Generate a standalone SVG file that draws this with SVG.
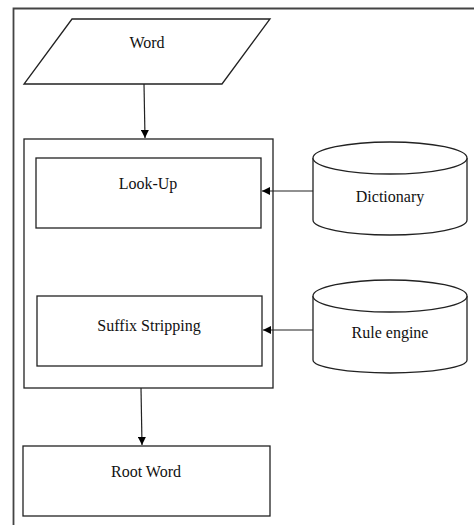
<svg xmlns="http://www.w3.org/2000/svg" width="474" height="525" viewBox="0 0 474 525">
<style>
.s{fill:#fff;stroke:#222;stroke-width:1.3}
.t{font-family:'Liberation Serif',Tinos,'Times New Roman',Times,serif;font-size:16px;fill:#111;text-anchor:middle}
.c{stroke:#222;stroke-width:1.2;fill:none}
</style>
<defs>
<marker id="ah" viewBox="0 0 10 10" refX="10" refY="5" markerWidth="9" markerHeight="8" markerUnits="userSpaceOnUse" orient="auto">
<path d="M0,0 L10,5 L0,10 Z" fill="#000"/>
</marker>
</defs>
<rect width="474" height="525" fill="#fff"/>
<g id="frame"><path d="M13.5,525 V8.5 H474" fill="none" stroke="#444" stroke-width="1.8"/></g>
<g id="word"><path class="s" d="M72,19 H270 L222,84 H24 Z"/><text class="t" x="147" y="48">Word</text></g>
<g id="container"><rect class="s" x="24" y="139" width="249" height="249"/></g>
<g id="lookup"><rect class="s" x="36" y="158" width="225" height="70"/><text class="t" x="148" y="189">Look-Up</text></g>
<g id="suffix"><rect class="s" x="37" y="296" width="225" height="70"/><text class="t" x="149" y="331">Suffix Stripping</text></g>
<g id="dictionary"><path class="s" d="M313,158 V220 A77,15 0 0 0 467,220 V158"/><ellipse class="s" cx="390" cy="158" rx="77" ry="16"/><text class="t" x="390" y="202">Dictionary</text></g>
<g id="rule"><path class="s" d="M313,296 V360 A77,13 0 0 0 467,360 V296"/><ellipse class="s" cx="390" cy="296" rx="77" ry="16"/><text class="t" x="390" y="338">Rule engine</text></g>
<g id="root"><rect class="s" x="23" y="446" width="247" height="70"/><text class="t" x="146" y="477">Root Word</text></g>
<g id="connectors">
<line class="c" x1="144" y1="84" x2="145" y2="138" marker-end="url(#ah)"/>
<line class="c" x1="313" y1="191" x2="262" y2="191" marker-end="url(#ah)"/>
<line class="c" x1="313" y1="330" x2="263" y2="330" marker-end="url(#ah)"/>
<line class="c" x1="141" y1="388" x2="142" y2="445" marker-end="url(#ah)"/>
</g>
</svg>
